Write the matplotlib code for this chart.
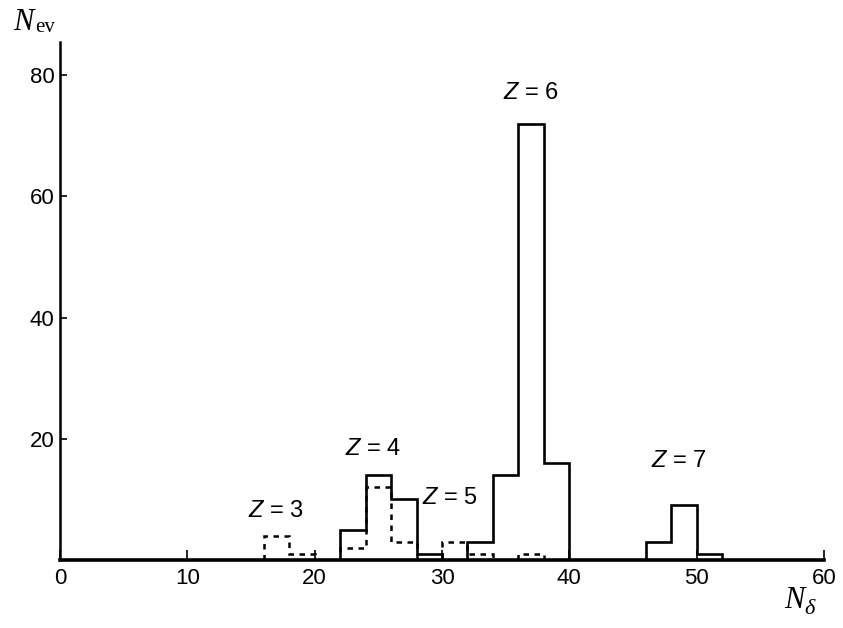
import matplotlib
matplotlib.use("Agg")
import matplotlib.pyplot as plt
import numpy as np

plt.rcParams['font.family'] = ['Liberation Sans', 'DejaVu Sans']
plt.rcParams['mathtext.fontset'] = 'custom'
plt.rcParams['mathtext.rm'] = 'Liberation Sans'
plt.rcParams['mathtext.it'] = 'Liberation Sans:italic'

# Bin edges (width 2)
solid_edges = [22, 24, 26, 28, 30, 32, 34, 36, 38, 40, 42, 44, 46, 48, 50, 52]
solid_counts = [5, 14, 10, 1, 0, 3, 14, 72, 16, 0, 0, 0, 3, 9, 1]

dashed_edges = [16, 18, 20, 22, 24, 26, 28, 30, 32, 34, 36, 38]
dashed_counts = [4, 1, 0, 2, 12, 3, 0, 3, 1, 0, 1]

labels = ["3", "4", "5", "6", "7"]
label_x = [17.0, 24.55, 30.6, 37.0, 48.6]
label_y = [8.1, 18.3, 10.3, 77.0, 16.4]

fig = plt.figure(figsize=(8.43, 6.28), dpi=100)
ax = fig.add_axes([60/843, 1-560/628, (824-60)/843, (560-42)/628])

ax.stairs(dashed_counts, dashed_edges, color='black', lw=1.8,
          linestyle=(0, (2.2, 2.2)), baseline=0)
ax.stairs(solid_counts, solid_edges, color='black', lw=1.9, baseline=0)

for lab, x, y in zip(labels, label_x, label_y):
    ax.text(x, y, r'$Z$ = ' + lab, ha='center', va='center', fontsize=17)

ax.set_xlim(0, 60)
ax.set_ylim(0, 85.5)
ax.spines['top'].set_visible(False)
ax.spines['right'].set_visible(False)
ax.spines['bottom'].set_linewidth(2.6)
ax.spines['left'].set_linewidth(1.8)

ax.set_xticks([0, 10, 20, 30, 40, 50, 60])
ax.set_yticks([20, 40, 60, 80])
ax.tick_params(axis='x', direction='in', length=7, width=1.2, labelsize=16, pad=6)
ax.tick_params(axis='y', direction='in', length=5, width=1.2, labelsize=16, pad=4)

fig.text(13/843, 1-22/628, 'N', fontsize=22, family='Liberation Serif',
         style='italic', ha='left', va='center')
fig.text(35/843, 1-27/628, 'ev', fontsize=15, family='Liberation Serif',
         ha='left', va='center')

fig.text(784/843, 1-600/628, 'N', fontsize=22, family='Liberation Serif',
         style='italic', ha='left', va='center')
fig.text(804/843, 1-609/628, 'δ', fontsize=16, family='Liberation Serif',
         style='italic', ha='left', va='center')

fig.savefig('out.png', dpi=100)
